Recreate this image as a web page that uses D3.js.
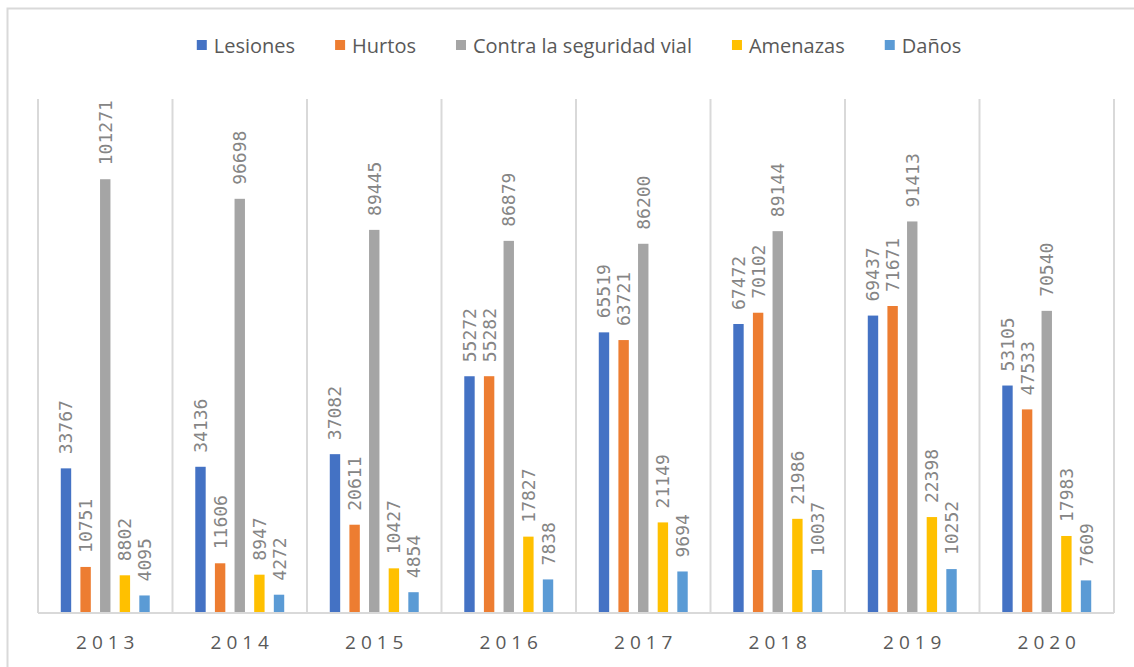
<!DOCTYPE html>
<html>
<head>
<meta charset="utf-8">
<script src="https://cdn.jsdelivr.net/npm/d3@7"></script>
<style>
  html, body { margin: 0; padding: 0; background: #fff; }
  svg { display: block; }
</style>
</head>
<body>
<div id="chart"></div>
<script>
const W = 1134, H = 667;

// data
const years = ["2013", "2014", "2015", "2016", "2017", "2018", "2019", "2020"];
const seriesNames = ["Lesiones", "Hurtos", "Contra la seguridad vial", "Amenazas", "Daños"];
const seriesColors = ["#4472c4", "#ed7d31", "#a5a5a5", "#ffc000", "#5b9bd5"];
const lesiones = [33767, 34136, 37082, 55272, 65519, 67472, 69437, 53105];
const hurtos = [10751, 11606, 20611, 55282, 63721, 70102, 71671, 47533];
const vial = [101271, 96698, 89445, 86879, 86200, 89144, 91413, 70540];
const amenazas = [8802, 8947, 10427, 17827, 21149, 21986, 22398, 17983];
const danos = [4095, 4272, 4854, 7838, 9694, 10037, 10252, 7609];
const allValues = [lesiones, hurtos, vial, amenazas, danos];

const margin = {top: 99, left: 38};
const plotRight = 1114, plotBottom = 613;

var svg = d3.select("#chart").append("svg")
    .attr("width", W)
    .attr("height", H);

// outer chart frame (runs off the picture on right/bottom)
svg.append("rect")
    .attr("x", 7.5).attr("y", 8.5)
    .attr("width", W + 20).attr("height", H + 20)
    .attr("fill", "none")
    .attr("stroke", "#d9d9d9")
    .attr("stroke-width", 2);

var x0 = d3.scaleBand()
    .domain(years)
    .range([margin.left, plotRight])
    .paddingInner(0).paddingOuter(0);

var x1 = d3.scaleBand()
    .domain(seriesNames)
    .range([0, x0.bandwidth()])
    .paddingInner(0.47)
    .paddingOuter(1.16);

var y = d3.scaleLinear()
    .domain([0, 120000])
    .range([plotBottom, margin.top]);

// vertical category separators
var seps = years.map(function(d) { return x0(d); }).concat([plotRight]);
svg.append("g")
    .selectAll("line")
    .data(seps)
    .enter()
    .append("line")
    .attr("x1", function(d) { return d; })
    .attr("x2", function(d) { return d; })
    .attr("y1", y(120000))
    .attr("y2", plotBottom)
    .attr("stroke", "#d9d9d9")
    .attr("stroke-width", 2);

// bars
var rows = [];
years.forEach(function(yr, i) {
    seriesNames.forEach(function(s, j) {
        rows.push({year: yr, series: s, value: allValues[j][i], color: seriesColors[j]});
    });
});

var groups = svg.append("g");
groups.selectAll("rect")
    .data(rows)
    .enter()
    .append("rect")
    .attr("x", function(d) { return x0(d.year) + x1(d.series); })
    .attr("y", function(d) { return y(d.value); })
    .attr("width", x1.bandwidth())
    .attr("height", function(d) { return plotBottom - y(d.value); })
    .attr("fill", function(d) { return d.color; });

// rotated data labels
groups.selectAll("text")
    .data(rows)
    .enter()
    .append("text")
    .attr("transform", function(d) {
        var cx = x0(d.year) + x1(d.series) + x1.bandwidth() / 2;
        return "translate(" + cx + "," + (y(d.value) - 14) + ") rotate(-90)";
    })
    .attr("dy", "0.36em")
    .attr("text-anchor", "start")
    .attr("font-family", "'DejaVu Sans Mono', 'Liberation Mono', monospace")
    .attr("font-size", 18)
    .attr("fill", "#858585")
    .text(function(d) { return d.value; });

// baseline
svg.append("line")
    .attr("x1", margin.left).attr("x2", plotRight)
    .attr("y1", plotBottom).attr("y2", plotBottom)
    .attr("stroke", "#d9d9d9")
    .attr("stroke-width", 2);

// category labels
svg.append("g")
    .selectAll("text")
    .data(years)
    .enter()
    .append("text")
    .attr("x", function(d) { return x0(d) + x0.bandwidth() / 2 + 2.5; })
    .attr("y", 649)
    .attr("text-anchor", "middle")
    .attr("font-family", "'Open Sans', sans-serif")
    .attr("font-size", 19)
    .attr("letter-spacing", 5)
    .attr("fill", "#595959")
    .text(function(d) { return d; });

// legend
var legend = svg.append("g");
var items = legend.selectAll("g")
    .data(seriesNames)
    .enter()
    .append("g");

items.append("rect")
    .attr("width", 10).attr("height", 10)
    .attr("y", -6)
    .attr("fill", function(d, i) { return seriesColors[i]; });

items.append("text")
    .attr("x", 17)
    .attr("dy", "0.35em")
    .attr("font-family", "'Open Sans', sans-serif")
    .attr("font-size", 20)
    .attr("fill", "#595959")
    .text(function(d) { return d; });

var itemGap = 40;
var widths = [];
items.each(function() {
    widths.push(17 + d3.select(this).select("text").node().getComputedTextLength());
});
var total = d3.sum(widths) + itemGap * (widths.length - 1);
var cursor = 579 - total / 2;
items.attr("transform", function(d, i) {
    var t = "translate(" + cursor + ",46)";
    cursor += widths[i] + itemGap;
    return t;
});
</script>
</body>
</html>
